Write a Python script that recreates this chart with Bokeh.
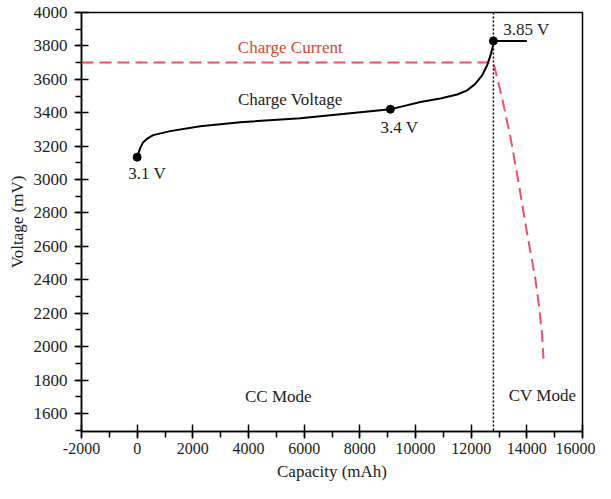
from bokeh.plotting import figure
from bokeh.models import Range1d, SingleIntervalTicker, Span, ColumnDataSource, CustomJSTickFormatter
from bokeh.embed import file_html
from bokeh.resources import INLINE
from bokeh.core.properties import value

# ---- data ----
voltage_cap = [0, 108, 216, 360, 575, 1187, 2265, 3704, 5861, 7659, 9097, 9457, 10176, 10895,
               11496, 11855, 12154, 12395, 12575, 12694, 12775, 12800, 14000]
voltage_mv = [3134, 3188, 3224, 3245, 3266, 3290, 3319, 3343, 3367, 3397, 3421, 3435, 3464, 3485,
              3509, 3534, 3574, 3624, 3684, 3743, 3793, 3830, 3830]

current_cap = [-2000, 12800, 13089, 13412, 13700, 13988, 14311, 14455, 14545, 14599]
current_mv = [3700, 3700, 3504, 3254, 2985, 2699, 2400, 2221, 2072, 1928]

marker_cap = [0, 9097, 12800]
marker_mv = [3134, 3421, 3830]

cv_boundary = 12800

labels_text = ["Charge Current", "Charge Voltage", "3.4 V", "3.85 V", "3.1 V", "CC Mode", "CV Mode"]
labels_x = [5502, 5502, 9421, 13988, 360, 5070, 14563]
labels_y = [3791, 3481, 3313, 3899, 3039, 1699, 1705]
labels_color = ["#D9452F", "#222222", "#222222", "#222222", "#222222", "#222222", "#222222"]

FONT = "Liberation Serif"

p = figure(width=595, height=483, output_backend="svg", toolbar_location=None,
           x_range=Range1d(-2000, 16000), y_range=Range1d(1492, 4000),
           min_border_left=81, min_border_right=13, min_border_top=12, min_border_bottom=51)
p.background_fill_color = "white"
p.border_fill_color = "white"
p.outline_line_color = "black"
p.outline_line_width = 1.5
p.grid.visible = False

p.xaxis.ticker = SingleIntervalTicker(interval=2000, num_minor_ticks=2)
p.yaxis.ticker = SingleIntervalTicker(interval=200, num_minor_ticks=2)
p.xaxis.formatter = CustomJSTickFormatter(code="return tick.toFixed(0);")
p.yaxis.formatter = CustomJSTickFormatter(code="return tick.toFixed(0);")

for ax in (p.xaxis, p.yaxis):
    ax.axis_line_color = "black"
    ax.axis_line_width = 1.5
    ax.major_tick_line_color = "black"
    ax.major_tick_line_width = 1.5
    ax.minor_tick_line_color = "black"
    ax.minor_tick_line_width = 1.5
    ax.major_tick_in = 7
    ax.major_tick_out = 7
    ax.minor_tick_in = 0
    ax.minor_tick_out = 6
    ax.major_label_text_font = FONT
    ax.major_label_text_color = "#222222"
    ax.axis_label_text_font = FONT
    ax.axis_label_text_font_style = "normal"
    ax.axis_label_text_font_size = "17px"
    ax.axis_label_text_color = "#222222"

p.xaxis.major_label_text_font_size = "16px"
p.yaxis.major_label_text_font_size = "17px"
p.xaxis.major_label_standoff = 4
p.yaxis.major_label_standoff = 7
p.xaxis.axis_label = "Capacity (mAh)"
p.yaxis.axis_label = "Voltage (mV)"
p.xaxis.axis_label_standoff = 5
p.yaxis.axis_label_standoff = 4

p.add_layout(Span(location=cv_boundary, dimension="height", line_color="black",
                  line_width=1.5, line_dash="2 2"))

p.line(current_cap, current_mv, line_color="#EE4F6C", line_width=2, line_dash="12 6")
p.line(voltage_cap, voltage_mv, line_color="black", line_width=2, line_join="round")
p.scatter(marker_cap, marker_mv, size=8, color="black")

src = ColumnDataSource(dict(x=labels_x, y=labels_y, t=labels_text, c=labels_color))
p.text(x="x", y="y", text="t", text_color="c", source=src, text_align="center",
       text_baseline="middle", text_font=value(FONT), text_font_size="17px")

open("out.html", "w").write(file_html(p, INLINE))
